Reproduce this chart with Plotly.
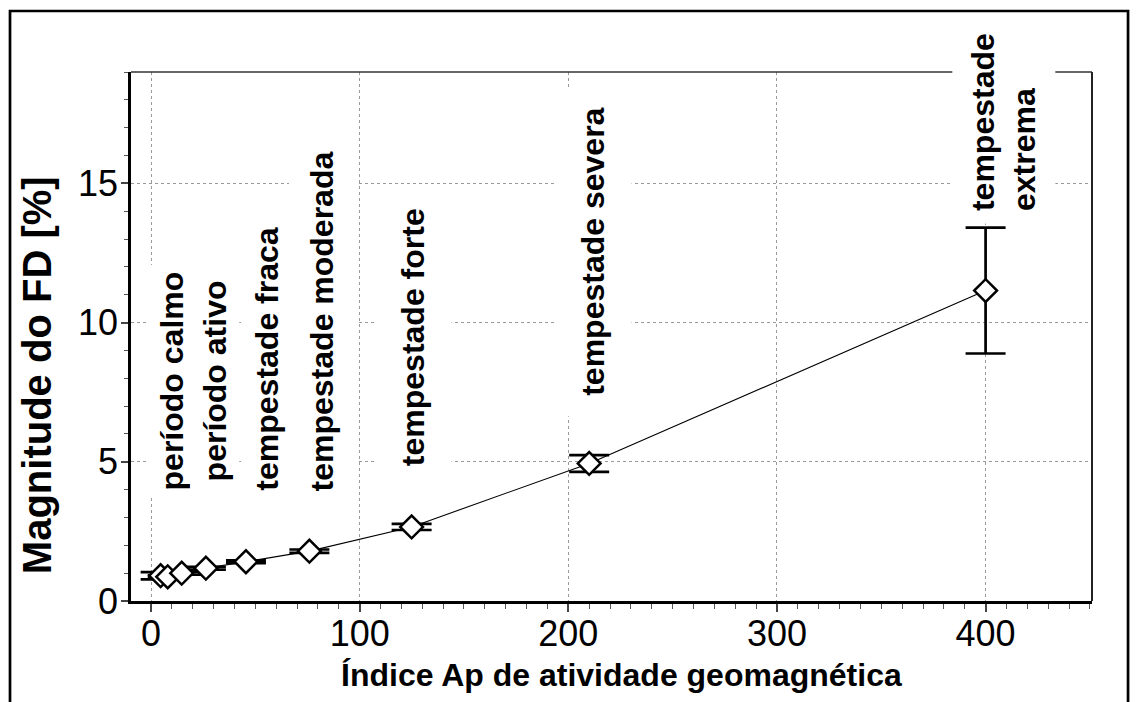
import plotly.graph_objects as go

# Forbush decrease magnitude vs. geomagnetic Ap index, per activity class
ap_index = [4.6, 8.0, 14.7, 26.3, 45.5, 75.9, 124.9, 210.0, 400.0]
fd_magnitude = [0.91, 0.87, 1.00, 1.18, 1.41, 1.79, 2.66, 4.94, 11.15]
fd_error = [0.13, 0.05, 0.05, 0.05, 0.05, 0.06, 0.11, 0.30, 2.26]

class_labels = [
    "período calmo",
    "período ativo",
    "tempestade fraca",
    "tempestade moderada",
    "tempestade forte",
    "tempestade severa",
    "tempestade<br>extrema",
]
# where each class label sits (Ap position, FD position of the label centre)
label_ap = [10.5, 30.7, 55.6, 82.4, 125.6, 211.8, 408.8]
label_fd = [7.92, 7.89, 8.67, 10.04, 9.48, 12.54, 17.2]
# white padding around each label
label_pad = [6, 6, 8, 15, 20, 20, 12]

x_ticks = [0, 100, 200, 300, 400]
y_ticks = [0, 5, 10, 15]

FONT = "Liberation Sans, Arial, sans-serif"

fig = go.Figure()
fig.add_trace(
    go.Scatter(
        x=ap_index,
        y=fd_magnitude,
        mode="lines+markers",
        line=dict(color="black", width=1.1),
        marker=dict(
            symbol="diamond",
            size=17.5,
            color="white",
            line=dict(color="black", width=2.5),
        ),
        error_y=dict(
            type="data",
            array=fd_error,
            visible=True,
            color="black",
            thickness=2.7,
            width=20,
        ),
        showlegend=False,
    )
)

for txt, xa, ya, pad in zip(class_labels, label_ap, label_fd, label_pad):
    fig.add_annotation(
        x=xa,
        y=ya,
        xref="x",
        yref="y",
        text=f"<b>{txt}</b>",
        textangle=-90,
        showarrow=False,
        font=dict(family=FONT, size=32, color="black"),
        bgcolor="white",
        borderpad=pad,
        align="left",
        xanchor="center",
        yanchor="middle",
    )

# axis titles
fig.add_annotation(
    x=0.5, y=-0.14, xref="paper", yref="paper",
    xshift=10,
    text="<b>Índice Ap de atividade geomagnética</b>",
    showarrow=False,
    font=dict(family=FONT, size=32, color="black"),
    xanchor="center", yanchor="middle",
)
fig.add_annotation(
    x=-0.0978, y=0.427, xref="paper", yref="paper",
    text="<b>Magnitude do FD [%]</b>",
    textangle=-90,
    showarrow=False,
    font=dict(family=FONT, size=40, color="black"),
    xanchor="center", yanchor="middle",
)

# thin top and right edges of the plotting frame
fig.add_shape(type="line", xref="paper", yref="paper", x0=0, x1=1, y0=1, y1=1,
              line=dict(color="#333333", width=1.5))
fig.add_shape(type="line", xref="paper", yref="paper", x0=1, x1=1, y0=0, y1=1,
              line=dict(color="#222222", width=2))
# outer border around the whole figure
fig.add_shape(type="rect", xref="paper", yref="paper",
              x0=-0.1259, x1=1.0375, y0=-0.2, y1=1.1153,
              line=dict(color="black", width=2.7))

grid_style = dict(showgrid=True, gridcolor="#9a9a9a", gridwidth=1, griddash="3px,3px")

fig.update_xaxes(
    range=[-9.6, 451],
    tickvals=x_ticks,
    ticktext=[str(v) for v in x_ticks],
    ticks="outside",
    ticklen=8,
    tickwidth=1.5,
    tickcolor="#444444",
    minor=dict(dtick=10, tick0=0, ticks="outside", ticklen=5, tickwidth=1.2,
               tickcolor="#555555", showgrid=False),
    showline=True,
    linecolor="black",
    linewidth=2.5,
    zeroline=False,
    tickfont=dict(family=FONT, size=36, color="black"),
    ticklabelstandoff=-9,
    **grid_style,
)
fig.update_yaxes(
    range=[0, 19],
    tickvals=y_ticks,
    ticktext=[str(v) for v in y_ticks],
    ticks="outside",
    ticklen=7,
    tickwidth=1.5,
    tickcolor="#444444",
    minor=dict(dtick=1, tick0=0, ticks="outside", ticklen=4, tickwidth=1.2,
               tickcolor="#555555", showgrid=False),
    showline=True,
    linecolor="black",
    linewidth=2.5,
    zeroline=False,
    tickfont=dict(family=FONT, size=36, color="black"),
    ticklabelstandoff=-4,
    **grid_style,
)

fig.update_layout(
    width=1137,
    height=702,
    margin=dict(l=131, r=45, t=72, b=101),
    paper_bgcolor="white",
    plot_bgcolor="white",
)

fig.write_html("out.html")
